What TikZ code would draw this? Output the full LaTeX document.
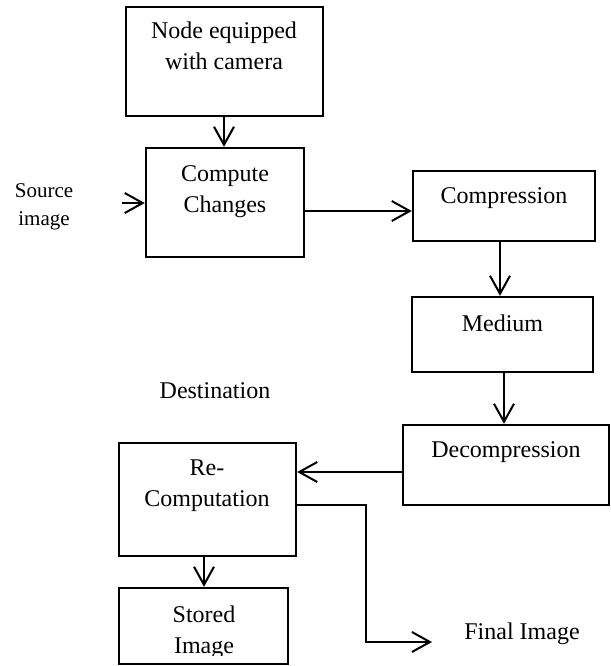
\documentclass[tikz,border=0pt]{standalone}
\usepackage{fontspec}
\setmainfont{Liberation Serif}
\usetikzlibrary{arrows.meta}
\begin{document}
\begin{tikzpicture}[x=0.5pt,y=-0.5pt,
  box/.style={draw, line width=1.2pt, inner sep=0pt},
  txt/.style={inner sep=0pt, align=center, font=\fontsize{12}{15.5}\selectfont},
  small/.style={inner sep=0pt, align=center, font=\fontsize{10.5}{14}\selectfont},
  arr/.style={line width=1pt, -{Straight Barb[length=9pt,width=10pt,line width=1pt]}}]
\useasboundingbox (0,0) rectangle (611,666);

% boxes
\node[box, minimum width=98.5pt, minimum height=54.5pt] (cam)  at (224.5,61.5) {};
\node[box, minimum width=79pt,   minimum height=54.5pt] (comp) at (225,202.5) {};
\node[box, minimum width=91pt,   minimum height=35pt]   (cmpr) at (504,206) {};
\node[box, minimum width=90.5pt, minimum height=37.5pt] (med)  at (502.5,334.5) {};
\node[box, minimum width=103pt,  minimum height=40pt]   (dec)  at (506,465) {};
\node[box, minimum width=88.5pt, minimum height=56.5pt] (rec)  at (207.5,499.5) {};
\node[box, minimum width=84.5pt, minimum height=38pt]   (sto)  at (203.5,626) {};

% labels inside the boxes
\node[txt] (camT)  at (224,46)    {Node equipped\\with camera};
\node[txt] (compT) at (225,191.5) {Compute\\Changes};
\node[txt] (cmprT) at (504,198)   {Compression};
\node[txt] (medT)  at (502.5,323) {Medium};
\node[txt] (decT)  at (506,452.5) {Decompression};
\node[txt] (recT)  at (207,485.5) {Re-\\Computation};
\begin{scope}
  \clip (0,0) rectangle (611,655);
  \node[txt] (stoT) at (204,632) {Stored\\Image};
\end{scope}

% free labels
\node[small] (srcT) at (44,207) {Source\\image};
\node[txt] (dstT) at (215,391) {Destination};
\node[txt] (finT) at (522,633.5) {Final Image};

% connectors
\coordinate (src) at (122,203);
\coordinate (fin) at (432,642);
\draw[arr] (cam.south -| 224,0) -- (comp.north -| 224,0);
\draw[arr] (src) -- (comp.west |- src);
\draw[arr] (comp.east |- 0,211) -- (cmpr.west |- 0,211);
\draw[arr] (cmpr.south -| 500,0) -- (med.north -| 500,0);
\draw[arr] (med.south -| 504,0) -- (dec.north -| 504,0);
\draw[arr] (dec.west |- 0,472) -- (rec.east |- 0,472);
\draw[arr] (rec.south -| 204,0) -- (sto.north -| 204,0);
\draw[arr] (rec.east |- 0,505) -| (366,642) -- (fin);
\end{tikzpicture}
\end{document}
